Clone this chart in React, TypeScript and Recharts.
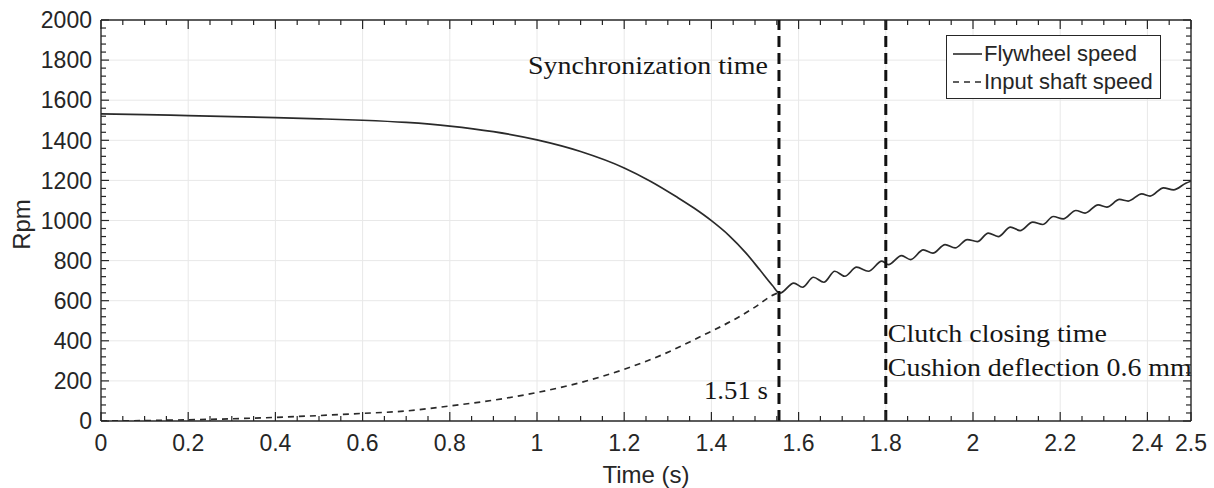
import React from 'react';
import { LineChart, Line, XAxis, YAxis, ReferenceLine, Legend } from 'recharts';

// ---------- data ----------
const flywheelTime = [
  0, 0.1, 0.2, 0.3, 0.4, 0.5, 0.6, 0.7, 0.8, 0.9, 1.0, 1.1, 1.2, 1.26, 1.32, 1.36, 1.4, 1.44, 1.48, 1.511, 1.54, 1.557,
  1.589, 1.609, 1.634, 1.658, 1.683, 1.706, 1.733, 1.76, 1.791, 1.806, 1.836, 1.857, 1.886, 1.908, 1.936,
  1.959, 1.987, 2.01, 2.035, 2.058, 2.086, 2.108, 2.137, 2.16, 2.184, 2.207, 2.236, 2.257, 2.287, 2.307,
  2.336, 2.356, 2.387, 2.406, 2.437, 2.46, 2.488, 2.5,
];
const flywheelRpm = [
  1532, 1528, 1523, 1518, 1513, 1507, 1500, 1489, 1471, 1443, 1402, 1344, 1262, 1196, 1118, 1062, 999, 926, 836, 754, 676, 638,
  688, 667, 717, 692, 747, 722, 767, 747, 797, 780, 825, 805, 853, 837, 880,
  863, 905, 895, 937, 920, 967, 950, 992, 980, 1020, 1008, 1050, 1037, 1078, 1067,
  1105, 1097, 1133, 1122, 1163, 1153, 1186, 1196,
];
const shaftTime = [0, 0.1, 0.2, 0.3, 0.4, 0.5, 0.6, 0.7, 0.8, 0.9, 1.0, 1.1, 1.2, 1.29, 1.374, 1.458, 1.5, 1.546, 1.557];
const shaftRpm = [0, 2, 6, 11, 18, 27, 38, 50, 75, 104, 142, 192, 258, 333, 420, 513, 568, 633, 640];

const seriesNames = ['Flywheel speed', 'Input shaft speed'];
const syncTime = 1.555;
const clutchTime = 1.8;
const syncLabels = ['Synchronization time', '1.51 s'];
const clutchLabels = ['Clutch closing time', 'Cushion deflection 0.6 mm'];
const xLabel = 'Time (s)';
const yLabel = 'Rpm';

const xMajorTicks = [0, 0.2, 0.4, 0.6, 0.8, 1, 1.2, 1.4, 1.6, 1.8, 2, 2.2, 2.4, 2.5];
const yMajorTicks = [0, 200, 400, 600, 800, 1000, 1200, 1400, 1600, 1800, 2000];
const xGridValues = [0.2, 0.4, 0.6, 0.8, 1, 1.2, 1.4, 1.6, 1.8, 2, 2.2, 2.4];
const yGridValues = [200, 400, 600, 800, 1000, 1200, 1400, 1600, 1800];

// minor tick positions (axis decoration)
const xMinorTicks: number[] = [];
for (let k = 1; k < 50; k++) {
  const v = Math.round(k * 5) / 100;
  if (!xMajorTicks.some((m) => Math.abs(m - v) < 1e-6)) xMinorTicks.push(v);
}
const yMinorTicks: number[] = [];
for (let v = 40; v < 2000; v += 40) {
  if (v % 200 !== 0) yMinorTicks.push(v);
}
const xAllTicks = [...xMajorTicks, ...xMinorTicks].sort((a, b) => a - b);
const yAllTicks = [...yMajorTicks, ...yMinorTicks].sort((a, b) => a - b);

const flywheelData = flywheelTime.map((t, i) => ({ t, rpm: flywheelRpm[i] }));
const shaftData = shaftTime.map((t, i) => ({ t, rpm: shaftRpm[i] }));

// ---------- style ----------
const W = 1214;
const H = 488;
const MARGIN = { top: 20, right: 23, left: 0, bottom: 0 };
const Y_AXIS_W = 101;
const X_AXIS_H = 67;
const PLOT_W = W - MARGIN.left - MARGIN.right - Y_AXIS_W;
const PLOT_H = H - MARGIN.top - X_AXIS_H;
const AXIS = '#262626';
const GRID = '#e8e8e8';
const CURVE = '#2a2a2a';
const SANS = "'Liberation Sans', Arial, Helvetica, sans-serif";
const SERIF = "'Liberation Serif', 'Times New Roman', serif";

const isMajor = (list: number[], v: number) => list.some((m) => Math.abs(m - v) < 1e-6);

const XTick = (props: any) => {
  const { x, y, payload } = props;
  const v = payload.value;
  const major = isMajor(xMajorTicks, v);
  const len = major ? 9 : 5;
  return (
    <g>
      <line x1={x} x2={x} y1={y} y2={y - len} stroke={AXIS} strokeWidth={1.2} />
      <line x1={x} x2={x} y1={y - PLOT_H} y2={y - PLOT_H + len} stroke={AXIS} strokeWidth={1.2} />
      {major && (
        <text x={x} y={y + 30} textAnchor="middle" fontFamily={SANS} fontSize={23} fill={AXIS}>
          {String(v)}
        </text>
      )}
    </g>
  );
};

const YTick = (props: any) => {
  const { x, y, payload } = props;
  const v = payload.value;
  const major = isMajor(yMajorTicks, v);
  const len = major ? 8 : 5;
  return (
    <g>
      <line x1={x} x2={x + len} y1={y} y2={y} stroke={AXIS} strokeWidth={1.2} />
      <line x1={x + PLOT_W - len} x2={x + PLOT_W} y1={y} y2={y} stroke={AXIS} strokeWidth={1.2} />
      {major && (
        <text x={x - 9} y={y} dy="0.36em" textAnchor="end" fontFamily={SANS} fontSize={23} fill={AXIS}>
          {String(v)}
        </text>
      )}
    </g>
  );
};

const renderYLabel = (props: any) => {
  const vb = props && props.viewBox;
  if (!vb) return null;
  const cx = vb.x + 30;
  const cy = vb.y + vb.height / 2 + 4;
  return (
    <text
      x={cx}
      y={cy}
      transform={`rotate(-90 ${cx} ${cy})`}
      textAnchor="middle"
      fontFamily={SANS}
      fontSize={24}
      fill={AXIS}
    >
      {yLabel}
    </text>
  );
};

const renderSyncLabels = (props: any) => {
  const vb = props && props.viewBox;
  if (!vb) return null;
  const x = vb.x;
  return (
    <g fontFamily={SERIF} fontSize={26} fill="#161616">
      <text x={x - 11} y={74} textAnchor="end" textLength={240} lengthAdjust="spacingAndGlyphs">
        {syncLabels[0]}
      </text>
      <text x={x - 11} y={399} textAnchor="end" textLength={64} lengthAdjust="spacingAndGlyphs">
        {syncLabels[1]}
      </text>
    </g>
  );
};

const renderClutchLabels = (props: any) => {
  const vb = props && props.viewBox;
  if (!vb) return null;
  const x = vb.x;
  return (
    <g fontFamily={SERIF} fontSize={26} fill="#161616">
      <text x={x + 2} y={342} textLength={219} lengthAdjust="spacingAndGlyphs">
        {clutchLabels[0]}
      </text>
      <text x={x + 2} y={376} textLength={304} lengthAdjust="spacingAndGlyphs">
        {clutchLabels[1]}
      </text>
    </g>
  );
};

const LegendBox = () => (
  <div
    style={{
      boxSizing: 'border-box',
      width: 215,
      height: 64,
      border: `1px solid ${AXIS}`,
      background: '#fff',
      fontFamily: SANS,
      fontSize: 22,
      color: AXIS,
      paddingTop: 4,
    }}
  >
    {seriesNames.map((name, i) => (
      <div key={name} style={{ display: 'flex', alignItems: 'center', height: 28, whiteSpace: 'nowrap' }}>
        <svg width={37} height={10} style={{ display: 'block' }}>
          <line
            x1={6}
            x2={35}
            y1={5}
            y2={5}
            stroke={CURVE}
            strokeWidth={1.6}
            strokeDasharray={i === 1 ? '6 5' : undefined}
          />
        </svg>
        <span>{name}</span>
      </div>
    ))}
  </div>
);

export default function App() {
  return (
    <div style={{ position: 'absolute', left: 0, top: 0, width: W, height: H, background: '#fff' }}>
      <LineChart width={W} height={H} margin={MARGIN}>
        {xGridValues.map((v) => (
          <ReferenceLine key={`gx${v}`} x={v} stroke={GRID} strokeWidth={1} />
        ))}
        {yGridValues.map((v) => (
          <ReferenceLine key={`gy${v}`} y={v} stroke={GRID} strokeWidth={1} />
        ))}
        <XAxis
          dataKey="t"
          type="number"
          domain={[0, 2.5]}
          allowDataOverflow
          ticks={xAllTicks}
          interval={0}
          height={X_AXIS_H}
          tickSize={0}
          tickMargin={0}
          tickLine={false}
          tick={<XTick />}
          axisLine={{ stroke: AXIS, strokeWidth: 1.4 }}
          label={{
            value: xLabel,
            position: 'insideBottom',
            offset: 5,
            fontFamily: SANS,
            fontSize: 24,
            fill: AXIS,
          }}
        />
        <YAxis
          type="number"
          domain={[0, 2000]}
          allowDataOverflow
          ticks={yAllTicks}
          interval={0}
          width={Y_AXIS_W}
          tickSize={0}
          tickMargin={0}
          tickLine={false}
          tick={<YTick />}
          axisLine={{ stroke: AXIS, strokeWidth: 1.4 }}
          label={renderYLabel}
        />
        <ReferenceLine y={2000} stroke={AXIS} strokeWidth={1.4} />
        <ReferenceLine x={2.5} stroke={AXIS} strokeWidth={1.4} />
        <Line
          data={shaftData}
          dataKey="rpm"
          name={seriesNames[1]}
          type="monotone"
          stroke={CURVE}
          strokeWidth={1.7}
          strokeDasharray="6 5"
          dot={false}
          activeDot={false}
          isAnimationActive={false}
        />
        <Line
          data={flywheelData}
          dataKey="rpm"
          name={seriesNames[0]}
          type="monotone"
          stroke={CURVE}
          strokeWidth={1.7}
          dot={false}
          activeDot={false}
          isAnimationActive={false}
        />
        <ReferenceLine
          x={syncTime}
          stroke="#111"
          strokeWidth={3}
          strokeDasharray="11 6"
          label={renderSyncLabels}
        />
        <ReferenceLine
          x={clutchTime}
          stroke="#111"
          strokeWidth={3}
          strokeDasharray="11 6"
          label={renderClutchLabels}
        />
        <Legend
          layout="horizontal"
          align="center"
          verticalAlign="middle"
          wrapperStyle={{ left: 946, top: 35, width: 215, height: 64 }}
          content={<LegendBox />}
        />
      </LineChart>
    </div>
  );
}
